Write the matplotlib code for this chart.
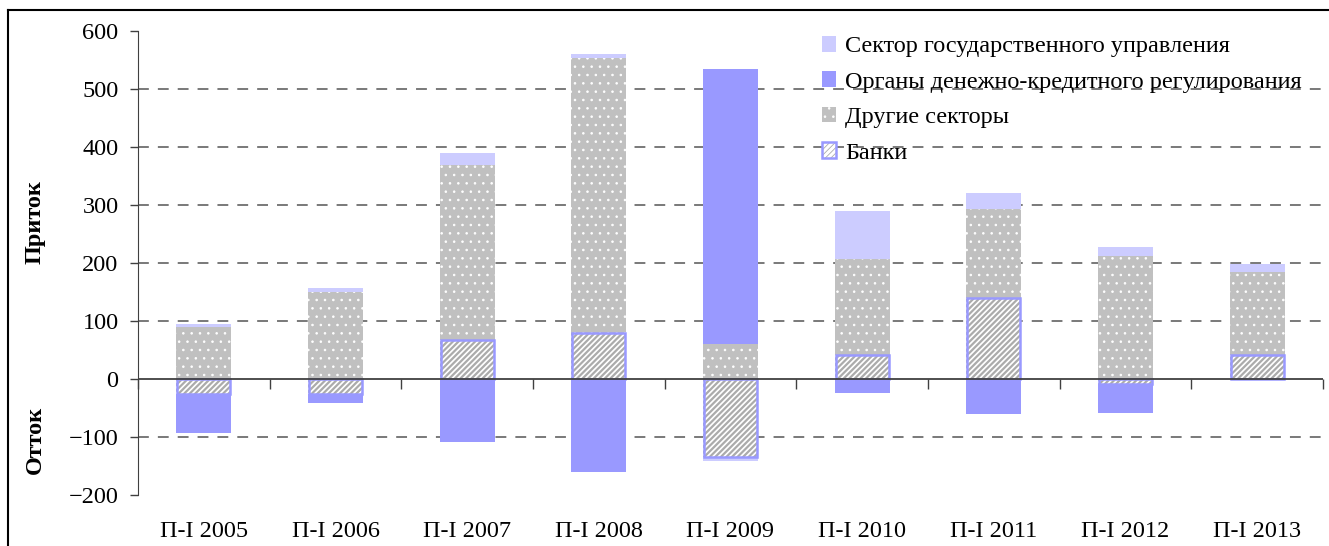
import numpy as np
import matplotlib
matplotlib.use('Agg')
import matplotlib.pyplot as plt
from matplotlib.lines import Line2D
from matplotlib.legend_handler import HandlerTuple

# Данные (млрд долл.), сверху вниз по стопке
periods = ['П-I 2005', 'П-I 2006', 'П-I 2007', 'П-I 2008', 'П-I 2009',
           'П-I 2010', 'П-I 2011', 'П-I 2012', 'П-I 2013']
banks = [-25, -26, 67, 79, -134, 41, 139, -9, 41]
other = [90, 150, 302, 474, 60, 166, 154, 212, 144]
cbank = [-68, -16, -108, -161, 475, -24, -60, -50, -2]
govt = [4, 7, 20, 7, -7, 83, 27, 15, 13]

series_names = ['Банки', 'Другие секторы',
                'Органы денежно-кредитного регулирования',
                'Сектор государственного управления']

plt.rcParams['font.family'] = ['Liberation Serif', 'DejaVu Serif']
FS = 17.5

fig = plt.figure(figsize=(13.29, 5.46), dpi=100)
ax = fig.add_axes([138 / 1329, 1 - 495 / 546, (1323 - 138) / 1329, (495 - 31) / 546])

x = np.arange(len(periods))
w = 0.42


def stack_bottoms(layers):
    # раздельные стопки для положительных и отрицательных значений
    pos = np.zeros(len(periods))
    neg = np.zeros(len(periods))
    out = []
    for vals in layers:
        v = np.asarray(vals, dtype=float)
        b = np.where(v >= 0, pos, neg)
        out.append(b)
        pos = pos + np.where(v >= 0, v, 0)
        neg = neg + np.where(v < 0, v, 0)
    return out


b_banks, b_other, b_cbank, b_govt = stack_bottoms([banks, other, cbank, govt])

plt.rcParams['hatch.linewidth'] = 1.6
ax.bar(x, banks, w, bottom=b_banks, color='white', edgecolor='#ABABAB',
       hatch='//////', lw=0, zorder=3)
ax.bar(x, banks, w * 0.96, bottom=b_banks, fill=False, edgecolor='#9999FF',
       lw=1.8, zorder=4)
plt.rcParams['hatch.linewidth'] = 0.6
ax.bar(x, other, w, bottom=b_other, color='#C0C0C0', edgecolor='white',
       hatch='..', lw=0, zorder=3)
ax.bar(x, cbank, w, bottom=b_cbank, color='#9999FF', lw=0, zorder=3)
ax.bar(x, govt, w, bottom=b_govt, color='#CCCCFF', lw=0, zorder=3)

for yv in [100, 200, 300, 400, 500, -100]:
    ax.axhline(yv, color='#6E6E6E', lw=1.3, ls=(0, (6, 5)), zorder=1)
ax.axhline(0, color='#404040', lw=1.3, zorder=5)

ax.set_xlim(-0.5, len(periods) - 0.5)
ax.set_ylim(-200, 600)
ax.set_yticks(range(-200, 601, 100))
ax.set_xticks(x)
ax.set_xticklabels(periods)
ax.tick_params(axis='x', length=0, pad=19, labelsize=FS)
ax.tick_params(axis='y', direction='out', length=6, width=1, labelsize=FS,
               pad=8, color='#404040')
for s in ['top', 'right', 'bottom']:
    ax.spines[s].set_visible(False)
ax.spines['left'].set_color('#404040')

# деления категорий на нулевой линии
sec = ax.secondary_xaxis(0.25)
sec.set_xticks(np.arange(len(periods) + 1) - 0.5)
sec.set_xticklabels([])
sec.tick_params(direction='out', length=7, width=1, color='#404040')
sec.spines['bottom'].set_visible(False)

fig.text(35 / 1329, 1 - 222 / 546, 'Приток', rotation=90, fontsize=FS,
         fontweight='bold', ha='center', va='center')
fig.text(35 / 1329, 1 - 440 / 546, 'Отток', rotation=90, fontsize=FS,
         fontweight='bold', ha='center', va='center')

h = ax.containers
handles = [h[4], h[3], h[2], (h[0], h[1])]
labels = [series_names[3], series_names[2], series_names[1], series_names[0]]
ax.legend(handles, labels, loc='upper left', bbox_to_anchor=(0.577, 0.989),
          borderaxespad=0, borderpad=0, frameon=False, fontsize=FS,
          handlelength=0.6, handleheight=0.6, handletextpad=0.35,
          labelspacing=0.58,
          handler_map={tuple: HandlerTuple(ndivide=1, pad=0)})

# рамка рисунка (видны левая и верхняя стороны)
fig.add_artist(Line2D([8 / 1329, 8 / 1329], [0, 1 - 10 / 546], color='black', lw=1.5))
fig.add_artist(Line2D([8 / 1329, 1], [1 - 10 / 546, 1 - 10 / 546], color='black', lw=1.5))

fig.savefig('out.png', dpi=100)
